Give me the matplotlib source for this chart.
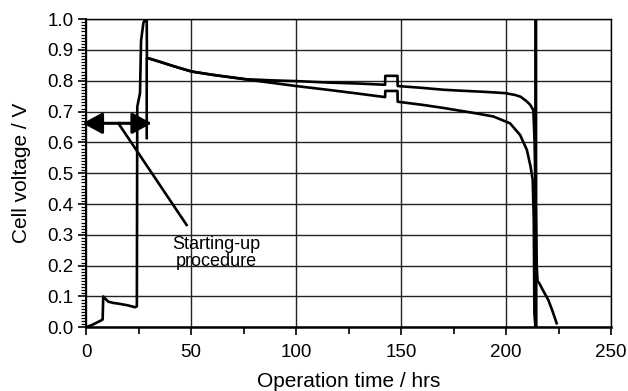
import numpy as np
import matplotlib.pyplot as plt
from matplotlib.ticker import MultipleLocator

# start-up curve plus the operation curve that stays higher at the end
up_t = [0, 3, 6, 7.9, 8.2, 9.0, 10.6, 13, 16, 20, 23.3, 24.2, 24.4, 25.7, 26.2, 27.3, 28.1,
        28.9, 29.0, 29.7, 35, 40, 44.8, 50.3, 60.6, 76.5, 90, 100, 116, 130, 142.4,
        142.5, 148.3, 148.4, 160, 170, 178, 190, 199.5, 204.3, 207, 209.9, 211.5, 213,
        213.6, 214.6, 215.0, 215.9, 217.5, 220.1, 222, 224.1]
up_v = [0.0, 0.008, 0.018, 0.025, 0.100, 0.094, 0.083, 0.079, 0.076, 0.071, 0.065, 0.068, 0.716,
        0.76, 0.93, 0.987, 1.0,
        1.0, 0.873, 0.873, 0.862, 0.851, 0.841, 0.830, 0.819, 0.805, 0.801, 0.799, 0.794, 0.791, 0.787,
        0.816, 0.816, 0.783, 0.777, 0.771, 0.768, 0.764, 0.760, 0.754, 0.748, 0.733, 0.722, 0.705,
        0.60, 0.20, 0.15, 0.142, 0.121, 0.089, 0.055, 0.013]

# operation curve that drops first
lo_t = [28.9, 28.9, 29.7, 35, 40, 44.8, 50.3, 60.6, 76.5, 90, 100, 116, 130, 142.4,
        142.5, 148.3, 148.4, 160, 170, 178, 186, 194, 201.9, 206.7, 209.9, 211.7, 212.7,
        213.2, 213.5, 214.0, 214.2, 214.4]
lo_v = [0.614, 0.873, 0.873, 0.862, 0.851, 0.841, 0.830, 0.819, 0.804, 0.792, 0.783, 0.770, 0.758, 0.747,
        0.767, 0.767, 0.732, 0.722, 0.712, 0.703, 0.694, 0.684, 0.662, 0.624, 0.576, 0.521, 0.478,
        0.35, 0.045, 0.0, 1.0, 0.0]

y_ticks = [0.0, 0.1, 0.2, 0.3, 0.4, 0.5, 0.6, 0.7, 0.8, 0.9, 1.0]

plt.rcParams['font.family'] = ['Liberation Sans', 'DejaVu Sans']

fig = plt.figure(figsize=(6.28, 3.91), dpi=100)
ax = fig.add_axes([0.137, 0.163, 0.836, 0.788])

ax.plot(up_t, up_v, color='black', lw=1.9, zorder=3)
ax.plot(lo_t, lo_v, color='black', lw=1.9, zorder=3)

ax.set_xlim(0, 250)
ax.set_ylim(0, 1.0)
ax.xaxis.set_major_locator(MultipleLocator(50))
ax.xaxis.set_minor_locator(MultipleLocator(25))
ax.set_yticks(y_ticks)
ax.set_yticklabels([f'{v:.1f}' for v in y_ticks])
ax.yaxis.set_minor_locator(MultipleLocator(0.01))

ax.grid(True, which='major', color='#222222', lw=1.0, zorder=1)
ax.tick_params(which='major', direction='out', length=6, width=1.2, labelsize=13.5,
               colors='black', pad=3)
ax.tick_params(axis='x', which='major', pad=6)
ax.tick_params(which='minor', direction='out', length=3.5, width=0.9)
ax.tick_params(axis='x', which='minor', length=5, width=1.2)
for s in ax.spines.values():
    s.set_linewidth(1.0)
ax.spines['bottom'].set_linewidth(1.8)
ax.spines['left'].set_linewidth(1.4)

ax.set_xlabel('Operation time / hrs', fontsize=15, labelpad=8)
ax.set_ylabel('Cell voltage / V', fontsize=15, labelpad=12)

# start-up annotation
ax.annotate('', xy=(-1.6, 0.662), xytext=(31.3, 0.662), annotation_clip=False,
            arrowprops=dict(arrowstyle='<|-|>,head_length=1.2,head_width=0.65',
                            color='black', lw=2.2, shrinkA=0, shrinkB=0), zorder=4)
ax.plot([15.4, 47.9], [0.662, 0.332], color='black', lw=1.9, zorder=4)
ax.text(62.2, 0.24, 'Starting-up\nprocedure', ha='center', va='center',
        fontsize=13, linespacing=1.0, zorder=5)

fig.savefig('out.png', dpi=100)
